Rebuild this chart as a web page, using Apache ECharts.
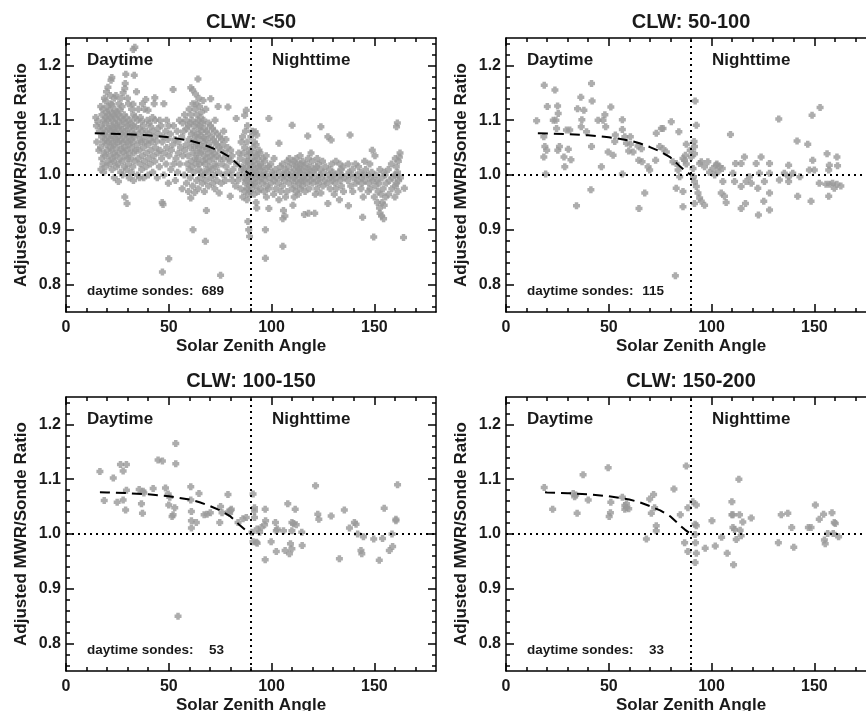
<!DOCTYPE html>
<html><head><meta charset="utf-8">
<script src="https://cdn.jsdelivr.net/npm/echarts@6/dist/echarts.min.js"></script>
<style>html,body{margin:0;padding:0;background:#fff}#c{width:866px;height:711px}</style>
</head><body><div id="c"></div>
<script>
const panelTitles = ['CLW: <50', 'CLW: 50-100', 'CLW: 100-150', 'CLW: 150-200'];
const daytimeSondes = [689, 115, 53, 33];
const xName = 'Solar Zenith Angle';
const yName = 'Adjusted MWR/Sonde Ratio';
const xTicks = [0, 50, 100, 150];
const xMinor = [10, 20, 30, 40, 60, 70, 80, 90, 110, 120, 130, 140, 160, 170];
const yTicks = [0.8, 0.9, 1.0, 1.1, 1.2];
const yMinor = [0.76, 0.78, 0.82, 0.84, 0.86, 0.88, 0.92, 0.94, 0.96, 0.98, 1.02, 1.04, 1.06, 1.08, 1.12, 1.14, 1.16, 1.18, 1.22, 1.24];
const fitX = [20, 30, 40, 50, 60, 65, 70, 75, 80, 84, 87, 90];
const fitY = [1.0757, 1.0745, 1.0725, 1.069, 1.063, 1.058, 1.051, 1.043, 1.032, 1.018, 1.008, 1.0];
const fitStart = [14, 15.5, 16.5, 19];
const fitStartY = 1.076;
const dayNightSplit = 90;
const refRatio = 1.0;

const clwLt50 = [
[14.5,1.105],[15.5,1.098],[15.0,1.060],[16.0,1.045],[16.2,1.080],[14.8,1.090],
[17.0,1.010],[17.4,1.030],[16.8,1.050],[17.3,1.070],[17.1,1.090],[17.5,1.110],[16.9,1.125],
[18.3,1.005],[18.0,1.020],[18.5,1.040],[18.2,1.060],[18.6,1.075],[18.1,1.085],[18.4,1.100],[18.0,1.120],[18.7,1.140],
[19.3,1.015],[19.0,1.035],[19.5,1.055],[19.2,1.065],[19.6,1.080],[19.1,1.095],[19.4,1.105],[19.7,1.115],[19.2,1.135],[19.7,1.152],
[20.4,1.025],[20.1,1.045],[20.6,1.060],[20.3,1.070],[20.7,1.085],[20.2,1.100],[20.5,1.110],[20.2,1.125],[20.4,1.160],
[21.5,1.020],[21.2,1.035],[21.7,1.050],[21.4,1.065],[21.8,1.080],[21.3,1.090],[21.6,1.105],[21.2,1.118],[21.8,1.130],[21.5,1.145],[21.9,1.173],
[22.4,1.010],[22.7,1.030],[22.2,1.045],[22.6,1.058],[22.3,1.072],[22.8,1.088],[22.4,1.100],[22.7,1.112],[22.2,1.128],[22.3,1.178],
[23.5,0.995],[23.2,1.025],[23.7,1.040],[23.4,1.055],[23.8,1.068],[23.3,1.082],[23.6,1.095],[23.2,1.108],[23.7,1.120],[23.5,1.140],
[24.6,1.015],[24.3,1.035],[24.8,1.050],[24.5,1.065],[24.2,1.078],[24.7,1.090],[24.4,1.103],[24.8,1.115],[24.3,1.145],
[25.5,0.988],[25.2,1.020],[25.7,1.040],[25.4,1.060],[25.8,1.072],[25.3,1.085],[25.6,1.097],[25.2,1.110],[25.7,1.130],
[26.6,1.005],[26.3,1.030],[26.8,1.048],[26.5,1.062],[26.9,1.075],[26.4,1.090],[26.7,1.105],[26.3,1.118],[26.8,1.140],
[27.6,1.000],[27.3,1.025],[27.8,1.042],[27.5,1.058],[27.9,1.070],[27.4,1.083],[27.7,1.100],[27.3,1.125],[27.8,1.150],
[28.6,0.960],[28.3,1.015],[28.8,1.035],[28.5,1.050],[28.9,1.065],[28.4,1.080],[28.7,1.095],[28.3,1.110],[28.6,1.158],[28.8,1.167],[29.1,1.184],
[29.7,0.948],[29.4,1.010],[29.9,1.030],[29.6,1.045],[30.0,1.060],[29.5,1.075],[29.8,1.090],[29.4,1.105],[29.9,1.140],
[30.7,0.995],[30.4,1.020],[30.9,1.040],[30.6,1.055],[31.0,1.070],[30.5,1.085],[30.8,1.100],[30.4,1.130],
[31.8,1.005],[31.5,1.030],[32.0,1.050],[31.7,1.065],[32.1,1.080],[31.6,1.095],[31.9,1.120],
[32.8,0.990],[32.5,1.015],[33.0,1.040],[32.7,1.060],[33.1,1.075],[32.6,1.090],[32.9,1.110],[32.6,1.129],[32.7,1.229],
[33.6,1.025],[33.9,1.045],[33.4,1.070],[33.8,1.088],[33.5,1.105],[34.3,1.152],[33.2,1.182],[33.5,1.233],
[34.8,1.000],[35.1,1.030],[34.6,1.055],[35.0,1.075],[34.7,1.100],[35.2,1.120],
[35.8,0.995],[36.1,1.020],[35.6,1.045],[36.0,1.065],[35.7,1.085],[36.2,1.105],
[36.8,1.010],[37.1,1.035],[36.6,1.060],[37.0,1.080],[36.7,1.098],[37.2,1.130],
[37.8,0.995],[38.1,1.025],[37.6,1.050],[38.0,1.070],[37.7,1.090],[38.2,1.120],[38.8,1.138],
[38.9,1.015],[39.2,1.040],[38.7,1.060],[39.1,1.080],[39.6,1.100],
[40.0,1.000],[40.3,1.030],[39.8,1.055],[40.2,1.075],[40.5,1.095],[39.9,1.118],
[41.0,1.020],[41.3,1.045],[40.8,1.065],[41.2,1.088],
[42.2,1.005],[42.5,1.035],[42.0,1.060],[42.4,1.080],[42.1,1.105],[42.9,1.130],
[43.2,1.025],[43.5,1.050],[43.0,1.070],[43.4,1.100],[43.2,1.141],
[44.4,0.995],[44.7,1.040],[44.2,1.062],[44.6,1.085],
[45.4,1.015],[45.7,1.045],[45.2,1.075],[45.6,1.100],
[46.5,1.030],[46.8,1.060],[46.3,1.090],
[46.8,0.950],[47.2,0.946],[46.9,0.823],
[47.6,1.000],[47.9,1.040],[47.4,1.070],[47.6,1.130],
[48.7,1.020],[49.0,1.050],[48.5,1.080],[48.9,1.100],
[49.8,0.985],[50.1,1.035],[49.6,1.065],[50.0,1.090],[50.0,0.847],
[51.0,1.010],[51.3,1.045],[50.8,1.075],
[52.1,1.156],[52.4,1.020],[51.9,1.055],[52.3,1.090],
[53.2,0.990],[53.5,1.030],[53.0,1.065],
[54.3,1.005],[54.6,1.040],[54.1,1.080],[54.5,1.060],
[55.4,1.020],[55.7,1.050],[55.2,1.100],
[56.5,0.975],[56.8,1.035],[56.3,1.070],[56.7,1.095],
[57.5,1.000],[57.8,1.045],[57.3,1.080],[57.7,1.110],
[58.6,0.985],[58.9,1.020],[58.4,1.055],[58.8,1.085],[58.5,1.100],
[59.6,0.970],[59.9,1.010],[59.4,1.035],[59.8,1.065],[59.5,1.090],[59.9,1.120],
[60.7,0.958],[60.4,0.995],[60.9,1.025],[60.6,1.050],[61.0,1.075],[60.5,1.095],[60.8,1.110],[60.7,1.159],
[61.8,0.900],[61.6,0.980],[61.3,1.015],[61.8,1.040],[61.5,1.060],[61.9,1.080],[61.4,1.100],[61.7,1.130],[61.6,1.155],
[62.6,0.968],[62.3,1.005],[62.8,1.030],[62.5,1.050],[62.9,1.070],[62.4,1.090],[62.7,1.120],[63.0,1.148],
[63.6,0.990],[63.3,1.020],[63.8,1.040],[63.5,1.058],[63.9,1.075],[63.4,1.095],[63.7,1.110],[63.3,1.130],
[64.3,0.975],[64.6,1.010],[64.1,1.030],[64.5,1.050],[64.2,1.068],[64.7,1.085],[64.4,1.100],[64.2,1.175],[64.6,1.140],
[65.3,0.995],[65.0,1.020],[65.5,1.040],[65.2,1.055],[65.6,1.072],[65.1,1.090],[65.4,1.105],[65.0,1.125],
[66.3,0.985],[66.0,1.005],[66.5,1.025],[66.2,1.045],[66.6,1.062],[66.1,1.080],[66.4,1.095],[66.0,1.115],[66.7,1.136],
[67.3,0.970],[67.0,1.000],[67.5,1.020],[67.2,1.035],[67.6,1.052],[67.1,1.068],[67.4,1.085],[67.0,1.100],[67.8,0.879],
[68.3,0.935],[68.0,0.990],[68.5,1.010],[68.2,1.030],[68.6,1.048],[68.1,1.065],[68.4,1.080],[68.0,1.120],
[69.3,0.980],[69.0,1.005],[69.5,1.025],[69.2,1.040],[69.6,1.058],[69.1,1.075],[69.4,1.095],
[70.4,0.995],[70.1,1.015],[70.6,1.035],[70.3,1.050],[70.7,1.070],[70.2,1.090],[70.4,1.139],
[71.4,0.985],[71.1,1.010],[71.6,1.030],[71.3,1.045],[71.7,1.065],[71.2,1.085],
[72.4,0.975],[72.1,1.000],[72.6,1.020],[72.3,1.040],[72.7,1.060],[72.2,1.080],[72.5,1.100],
[73.4,0.990],[73.1,1.015],[73.6,1.035],[73.3,1.055],[73.7,1.075],
[74.5,0.967],[74.2,1.005],[74.7,1.030],[74.4,1.050],[74.8,1.070],[74.0,1.125],[75.2,0.817],
[75.5,0.985],[75.8,1.020],[75.3,1.045],[75.7,1.065],
[76.5,1.000],[76.8,1.030],[76.3,1.055],[76.7,1.080],
[77.6,0.990],[77.9,1.015],[77.4,1.040],[77.8,1.065],
[78.8,1.005],[79.1,1.030],[78.6,1.050],[78.8,1.124],
[79.9,0.961],[80.2,1.000],[79.7,1.025],[80.1,1.045],
[81.0,0.990],[81.3,1.010],[80.8,1.035],
[82.8,1.103],[82.5,0.980],[83.0,1.020],
[83.8,1.000],[84.1,1.040],[83.6,0.990],
[85.0,0.975],[85.3,1.010],[84.8,1.030],[85.2,1.060],
[86.0,0.960],[86.3,0.995],[85.8,1.015],[86.2,1.040],[85.9,1.070],[86.9,1.109],
[87.0,0.970],[87.3,0.985],[86.8,1.005],[87.2,1.025],[86.9,1.050],[87.3,1.080],[87.7,1.118],
[88.0,0.955],[88.3,0.975],[87.8,0.990],[88.2,1.000],[87.9,1.015],[88.4,1.035],[88.1,1.060],[88.3,1.090],
[88.8,0.965],[89.1,0.980],[88.6,0.995],[89.0,1.010],[88.7,1.025],[89.2,1.045],[88.5,0.915],[88.9,0.900],[89.3,0.888],
[89.5,0.970],[89.8,0.985],[89.4,1.000],[89.7,1.020],[89.5,1.040],[89.9,1.070],
[90.5,0.975],[90.8,0.990],[90.3,1.005],[90.7,1.015],[90.4,1.030],[90.9,1.050],[90.6,1.080],
[91.5,0.965],[91.8,0.985],[91.3,1.000],[91.7,1.010],[91.4,1.025],[91.9,1.040],[91.6,1.060],[92.0,1.079],
[92.5,0.950],[92.8,0.940],[92.3,0.980],[92.7,0.995],[92.4,1.005],[92.9,1.020],[92.6,1.035],[92.5,1.055],[92.8,1.073],
[93.5,0.970],[93.8,0.990],[93.3,1.000],[93.7,1.015],[93.4,1.030],[93.9,1.045],
[94.5,0.975],[94.8,0.995],[94.3,1.010],[94.7,1.020],[94.4,1.040],
[95.5,0.985],[95.8,1.000],[95.3,1.015],[95.7,1.030],
[96.5,0.970],[96.8,0.990],[96.3,1.005],[96.7,1.025],[97.0,0.900],[97.0,0.848],
[97.5,0.960],[97.8,0.980],[97.3,1.000],[97.7,1.012],[97.4,1.035],
[98.7,0.939],[98.5,0.975],[98.9,0.995],[98.6,1.015],[98.7,1.103],
[99.8,0.985],[100.1,1.005],[99.6,1.020],
[101.0,0.965],[101.3,0.990],[100.8,1.000],[101.2,1.030],
[102.0,0.975],[102.3,0.995],[101.8,1.010],
[103.6,0.955],[103.3,0.985],[103.8,1.005],[103.6,1.058],
[104.5,0.970],[104.8,0.995],[104.3,1.015],
[105.5,0.920],[105.8,0.935],[105.5,0.870],[105.3,0.980],[105.7,1.000],[105.4,1.020],
[106.5,0.925],[106.8,0.960],[106.3,0.990],[106.7,1.010],
[107.5,0.970],[107.8,0.995],[107.3,1.005],[107.7,1.025],
[108.5,0.985],[108.8,1.000],[108.3,1.015],[108.7,1.030],
[110.4,0.945],[110.0,0.975],[110.3,0.990],[109.8,1.005],[110.2,1.020],[110.0,1.091],
[111.0,0.960],[111.3,0.980],[110.8,0.995],[111.2,1.010],[110.9,1.025],
[112.0,0.970],[112.3,0.990],[111.8,1.000],[112.2,1.015],[111.9,1.030],
[113.0,0.965],[113.3,0.985],[112.8,1.000],[113.2,1.010],[112.9,1.020],
[114.0,0.975],[114.3,0.990],[113.8,1.005],[114.2,1.020],[113.9,1.035],
[115.0,0.980],[115.3,0.995],[114.8,1.010],[115.2,1.025],
[116.0,0.928],[116.3,0.970],[115.8,0.990],[116.2,1.000],[115.9,1.015],
[117.0,0.985],[117.3,1.005],[116.8,1.020],[117.6,1.071],
[118.0,0.930],[118.3,0.975],[117.8,0.995],[118.2,1.010],[117.9,1.030],
[119.0,0.990],[119.3,1.000],[118.8,1.015],[119.2,1.040],
[120.0,0.985],[120.3,1.005],[119.8,1.025],
[121.0,0.930],[121.3,0.965],[120.8,0.995],[121.2,1.010],
[122.0,0.975],[122.3,0.990],[121.8,1.015],[122.2,1.030],
[123.0,0.985],[123.3,1.000],[122.8,1.020],
[124.0,0.967],[124.3,0.995],[123.8,1.010],[124.0,1.088],
[125.0,0.980],[125.3,1.005],[124.8,1.025],
[126.0,0.990],[126.3,1.015],
[127.4,0.948],[127.1,0.985],[127.6,1.000],[127.4,1.070],
[128.5,0.975],[128.8,0.995],[128.3,1.010],[129.0,1.064],
[129.5,0.990],[129.8,1.005],[129.3,1.020],
[130.5,0.965],[130.8,0.985],[130.3,1.000],
[131.5,0.975],[131.8,0.995],[131.3,1.025],
[133.0,0.955],[133.3,0.990],[132.8,1.005],[133.2,1.020],
[134.0,0.980],[134.3,1.000],[133.8,1.010],
[135.0,0.970],[135.3,0.995],[134.8,1.015],
[137.4,0.944],[137.1,0.990],[137.6,1.005],[137.3,1.020],
[138.2,1.073],[138.5,0.980],[138.0,1.000],
[139.5,0.970],[139.8,0.995],[139.3,1.010],
[141.0,0.985],[141.3,1.000],[140.8,1.020],
[142.0,0.990],[142.3,1.015],
[143.5,0.975],[143.8,0.995],[143.3,1.005],
[144.3,0.923],[144.6,0.960],[144.1,0.985],[144.5,1.000],
[145.5,0.990],[145.8,1.010],[145.3,1.025],
[147.0,0.970],[147.3,0.985],[146.8,1.000],
[148.0,0.975],[148.3,0.995],[147.8,1.020],
[149.0,1.045],[149.3,0.990],[148.8,1.005],
[149.7,0.887],[150.0,0.960],
[150.5,0.980],[150.8,1.000],[150.3,1.035],
[151.5,0.950],[151.8,0.970],[151.3,0.990],
[152.5,0.940],[152.8,0.930],[152.3,0.985],[152.7,1.010],
[153.5,0.925],[153.8,0.950],[153.3,0.965],[153.7,0.995],
[154.5,0.920],[154.8,0.945],[154.3,0.975],[154.7,1.005],
[155.5,0.960],[155.8,0.985],[155.3,1.000],
[157.0,0.965],[157.3,0.990],[156.8,1.010],
[158.5,0.975],[158.8,0.995],[158.3,1.020],
[160.0,0.960],[160.3,0.980],[159.8,1.000],[160.2,1.030],
[160.8,1.088],[161.2,1.095],[160.6,0.985],[161.0,1.000],[160.7,1.015],
[161.5,0.970],[161.8,0.990],[161.3,1.005],[161.7,1.025],
[162.5,1.040],[162.2,1.033],[162.7,0.995],
[164.2,0.886],[164.6,0.976]
];

const clw50to100 = [
[14.9,1.099],[18.6,1.164],[20.1,1.125],[18.4,1.070],[18.9,1.052],[18.4,1.033],[19.3,1.002],[19.8,1.045],
[23.8,1.155],[25.1,1.126],[25.4,1.112],[23.0,1.100],[24.3,1.100],[24.6,1.085],[25.2,1.045],[26.0,1.052],[28.2,1.033],[28.6,1.015],
[29.4,1.082],[31.0,1.082],[30.3,1.047],[31.6,1.028],[34.3,0.944],[34.8,1.121],[36.4,1.142],[36.9,1.101],[36.6,1.088],[37.9,1.118],
[39.2,1.079],[41.6,1.167],[41.9,1.135],[41.6,1.052],[41.3,0.973],[44.8,1.100],[46.4,1.015],[47.2,1.100],[48.1,1.110],[48.5,1.088],
[51.0,1.124],[49.7,1.042],[52.1,1.036],[53.2,1.073],[52.9,1.061],[56.6,1.101],[56.6,1.083],[56.6,1.002],[57.8,1.070],[58.6,1.058],
[60.5,1.070],[60.5,1.056],[61.8,1.042],[59.7,1.044],[64.2,1.053],[65.9,1.048],[64.6,1.027],[66.2,1.024],[64.7,0.939],[67.5,0.967],
[69.1,1.015],[69.9,1.009],[73.1,1.076],[75.6,1.085],[76.4,1.085],[72.8,1.027],[74.8,1.052],[76.4,1.048],[78.0,1.042],[80.4,1.097],
[81.2,1.024],[82.8,1.021],[82.4,0.816],[84.1,1.079],[82.8,0.976],[86.1,0.970],[83.7,1.009],[84.5,0.997],[86.1,1.030],[86.9,1.027],
[87.7,1.020],[87.3,1.036],[87.7,1.056],[86.1,0.942],[89.6,1.045],[90.1,1.033],[91.0,1.012],[91.2,0.997],[91.7,0.988],[92.0,1.135],
[92.6,1.091],[91.5,1.061],[91.7,1.052],[91.7,1.039],[92.6,0.979],[93.4,0.967],[91.7,0.948],[94.2,0.958],[95.0,0.952],[96.6,0.945],
[94.2,1.021],[95.0,1.024],[96.6,1.015],[98.2,1.024],[99.0,1.005],[100.6,1.012],[102.3,1.018],[101.5,1.000],[103.1,1.006],[102.6,1.020],
[103.9,1.015],[105.2,1.012],[105.5,0.988],[104.7,0.967],[106.3,0.961],[107.1,0.950],[109.2,1.074],[110.4,1.003],[111.2,0.988],[111.7,1.021],
[114.4,1.021],[114.4,0.979],[114.4,0.939],[116.0,1.033],[116.8,0.988],[116.5,0.948],[118.4,0.997],[119.3,0.985],[121.7,1.021],[122.5,0.976],
[123.3,1.003],[124.1,1.033],[122.8,0.927],[125.4,0.952],[125.7,0.988],[128.2,1.021],[128.2,1.003],[128.2,0.967],[128.2,0.936],[132.7,1.102],
[133.0,0.991],[135.4,1.003],[137.5,1.018],[137.5,0.997],[137.5,0.988],[139.5,1.003],[141.6,1.062],[141.9,0.961],[143.0,0.997],[146.8,1.056],
[147.6,1.009],[148.4,0.952],[148.9,1.109],[149.2,1.027],[150.0,1.009],[152.8,1.123],[152.4,0.985],[156.2,1.039],[157.3,1.018],[157.0,1.009],
[155.7,0.983],[157.3,0.983],[158.9,0.985],[159.7,0.976],[161.0,0.983],[162.9,0.980],[157.0,0.961],[161.0,1.033],[161.3,1.017]
];

const clw100to150 = [
[16.5,1.114],[18.6,1.061],[23.0,1.102],[24.9,1.058],[26.5,1.127],[27.8,1.115],[27.8,1.062],[29.0,1.044],[29.4,1.127],[29.4,1.080],
[35.6,1.081],[36.7,1.055],[37.2,1.038],[37.5,1.078],[37.9,1.075],[42.4,1.083],[44.8,1.135],[46.9,1.133],[48.4,1.084],[49.7,1.073],
[50.0,1.053],[50.5,1.067],[51.6,1.032],[52.1,1.035],[52.9,1.048],[53.4,1.165],[53.4,1.128],[54.5,0.850],[60.7,1.086],[60.7,1.062],
[61.0,1.041],[61.0,1.024],[61.0,1.011],[63.4,1.021],[64.7,1.074],[67.2,1.035],[68.6,1.036],[70.2,1.039],[74.8,1.021],[75.2,1.050],
[75.9,1.039],[78.8,1.072],[78.8,1.040],[80.1,1.043],[80.4,1.045],[79.6,1.038],[83.7,1.021],[86.1,1.028],[87.7,1.030],
[91.0,1.073],[91.7,1.048],[91.7,1.042],[91.7,1.030],[91.0,0.986],[92.6,0.985],[93.0,0.983],[90.5,1.003],[93.0,1.009],[94.2,1.003],
[95.0,1.012],[96.6,1.017],[97.1,1.024],[96.9,1.045],[96.9,0.953],[99.8,0.986],[101.9,1.021],[102.3,1.006],[102.8,1.009],[102.3,0.968],
[105.8,1.006],[106.6,0.970],[107.9,1.055],[108.7,0.964],[109.2,0.982],[109.9,1.006],[109.9,1.021],[109.9,0.973],[110.7,1.019],[111.5,1.045],
[112.0,1.017],[114.9,0.979],[114.7,1.003],[121.4,1.088],[122.5,1.036],[123.0,1.027],[129.0,1.033],[133.0,0.955],[135.4,1.044],[137.9,1.011],
[140.3,1.021],[141.1,1.018],[141.9,1.000],[143.5,0.970],[143.9,0.964],[144.7,0.995],[149.7,0.991],[152.4,0.952],[154.0,0.992],[154.8,1.047],
[157.3,0.970],[158.6,1.000],[158.9,0.977],[160.5,1.027],[160.5,1.024],[161.3,1.090]
];

const clw150to200 = [
[18.6,1.085],[22.7,1.045],[32.7,1.074],[33.4,1.068],[33.9,1.071],[34.6,1.038],[37.5,1.108],[40.0,1.062],[49.7,1.121],[50.2,1.032],
[50.8,1.039],[51.0,1.058],[56.6,1.067],[57.8,1.045],[57.8,1.052],[58.6,1.048],[59.7,1.046],[58.6,1.055],[68.3,0.991],[69.9,1.064],
[71.8,1.072],[70.7,1.038],[72.3,1.048],[73.1,1.015],[73.1,1.006],[81.7,1.082],[84.8,1.035],[86.9,0.984],[87.7,1.124],[88.5,0.968],
[88.5,1.048],[90.9,1.059],[92.0,1.018],[92.6,1.015],[92.6,1.053],[92.0,0.999],[92.2,0.984],[92.6,0.965],[92.0,0.948],[96.9,0.974],
[100.2,1.024],[101.8,0.978],[104.9,0.994],[107.6,0.965],[109.9,1.059],[109.9,1.035],[110.4,1.035],[110.4,1.012],[111.2,1.008],[110.7,0.944],
[112.0,0.990],[113.3,1.100],[113.6,1.035],[113.9,1.007],[114.4,0.997],[115.2,1.022],[119.3,1.029],[132.5,0.984],[133.9,1.035],[137.1,1.038],
[139.0,1.012],[140.0,0.976],[147.1,1.012],[148.4,1.012],[150.5,1.053],[152.4,1.027],[154.5,1.036],[154.9,0.989],[155.3,0.982],[156.5,1.001],
[158.6,1.039],[159.7,1.021],[160.2,1.019],[159.2,1.001],[161.8,0.995]
];

const panelData = [clwLt50, clw50to100, clw100to150, clw150to200];

// ---------- layout ----------
const FONT = '"Liberation Sans", Arial, Helvetica, sans-serif';
const TXT = '#1a1a1a';
const W = 370, H = 274;
const G = [{l: 66, t: 38}, {l: 506, t: 38}, {l: 66, t: 397}, {l: 506, t: 397}];

const chart = echarts.init(document.getElementById('c'), null, {renderer: 'canvas'});

const xAxes = [], yAxes = [], series = [], graphics = [];
const lineCol = {color: '#000', width: 1.5};

G.forEach((g, i) => {
  const common = {gridIndex: i, type: 'value', splitLine: {show: false}};
  xAxes.push(Object.assign({}, common, {
    min: 0, max: 180, position: 'bottom',
    axisLine: {show: true, onZero: false, lineStyle: lineCol},
    axisTick: {show: true, inside: true, length: 8, customValues: xTicks, lineStyle: lineCol},
    axisLabel: {show: true, customValues: xTicks, margin: 8, fontSize: 16, fontWeight: 'bold', fontFamily: FONT, color: TXT},
    name: xName, nameLocation: 'middle', nameGap: 26,
    nameTextStyle: {fontSize: 17, fontWeight: 'bold', fontFamily: FONT, color: TXT}
  }));
  xAxes.push(Object.assign({}, common, {
    min: 0, max: 180, position: 'bottom',
    axisLine: {show: false, onZero: false},
    axisTick: {show: true, inside: true, length: 4, customValues: xMinor, lineStyle: lineCol},
    axisLabel: {show: false}
  }));
  xAxes.push(Object.assign({}, common, {
    min: 0, max: 180, position: 'top',
    axisLine: {show: true, onZero: false, lineStyle: lineCol},
    axisTick: {show: true, inside: true, length: 8, customValues: xTicks, lineStyle: lineCol},
    axisLabel: {show: false}
  }));
  xAxes.push(Object.assign({}, common, {
    min: 0, max: 180, position: 'top',
    axisLine: {show: false, onZero: false},
    axisTick: {show: true, inside: true, length: 4, customValues: xMinor, lineStyle: lineCol},
    axisLabel: {show: false}
  }));
  yAxes.push(Object.assign({}, common, {
    min: 0.75, max: 1.25, position: 'left',
    axisLine: {show: true, onZero: false, lineStyle: lineCol},
    axisTick: {show: true, inside: true, length: 8, customValues: yTicks, lineStyle: lineCol},
    axisLabel: {show: true, customValues: yTicks, margin: 5, fontSize: 16, fontWeight: 'bold', fontFamily: FONT, color: TXT,
      formatter: v => Number(v).toFixed(1)},
    name: yName, nameLocation: 'middle', nameGap: 36, nameRotate: 90,
    nameTextStyle: {fontSize: 17, fontWeight: 'bold', fontFamily: FONT, color: TXT}
  }));
  yAxes.push(Object.assign({}, common, {
    min: 0.75, max: 1.25, position: 'left',
    axisLine: {show: false, onZero: false},
    axisTick: {show: true, inside: true, length: 4, customValues: yMinor, lineStyle: lineCol},
    axisLabel: {show: false}
  }));
  yAxes.push(Object.assign({}, common, {
    min: 0.75, max: 1.25, position: 'right',
    axisLine: {show: true, onZero: false, lineStyle: lineCol},
    axisTick: {show: true, inside: true, length: 8, customValues: yTicks, lineStyle: lineCol},
    axisLabel: {show: false}
  }));
  yAxes.push(Object.assign({}, common, {
    min: 0.75, max: 1.25, position: 'right',
    axisLine: {show: false, onZero: false},
    axisTick: {show: true, inside: true, length: 4, customValues: yMinor, lineStyle: lineCol},
    axisLabel: {show: false}
  }));

  series.push({
    type: 'scatter', xAxisIndex: 4 * i, yAxisIndex: 4 * i,
    data: panelData[i],
    symbol: 'path://M1,0H3V1H4V3H3V4H1V3H0V1H1Z',
    symbolSize: 7,
    itemStyle: {color: '#989898'},
    silent: true, z: 2,
    markLine: {
      silent: true, symbol: 'none', animation: false,
      label: {show: false},
      lineStyle: {color: '#000', type: [2, 4], width: 2},
      data: [{xAxis: dayNightSplit}, {yAxis: refRatio}]
    }
  });
  const fitData = [[fitStart[i], fitStartY]].concat(fitX.map((x, k) => [x, fitY[k]]));
  series.push({
    type: 'line', xAxisIndex: 4 * i, yAxisIndex: 4 * i,
    data: fitData, showSymbol: false, symbol: 'none', smooth: false, silent: true, z: 4,
    lineStyle: {color: '#000', width: 2, type: [10, 6]}
  });

  const tFont = (s) => 'bold ' + s + 'px ' + FONT;
  graphics.push({type: 'text', x: g.l + W / 2, y: g.t - 16,
    style: {text: panelTitles[i], font: tFont(20), fill: TXT, align: 'center', verticalAlign: 'middle'}});
  graphics.push({type: 'text', x: g.l + 21, y: g.t + 22,
    style: {text: 'Daytime', font: tFont(17), fill: TXT, align: 'left', verticalAlign: 'middle'}});
  graphics.push({type: 'text', x: g.l + 206, y: g.t + 22,
    style: {text: 'Nighttime', font: tFont(17), fill: TXT, align: 'left', verticalAlign: 'middle'}});
  graphics.push({type: 'text', x: g.l + 21, y: g.t + 253,
    style: {text: 'daytime sondes:', font: tFont(13.5), fill: TXT, align: 'left', verticalAlign: 'middle'}});
  graphics.push({type: 'text', x: g.l + 158, y: g.t + 253,
    style: {text: String(daytimeSondes[i]), font: tFont(13.5), fill: TXT, align: 'right', verticalAlign: 'middle'}});
});

chart.setOption({
  animation: false,
  backgroundColor: '#fff',
  grid: G.map(g => ({left: g.l, top: g.t, width: W, height: H, containLabel: false, outerBoundsMode: 'none'})),
  xAxis: xAxes,
  yAxis: yAxes,
  series: series,
  graphic: graphics
});
</script>
</body></html>
